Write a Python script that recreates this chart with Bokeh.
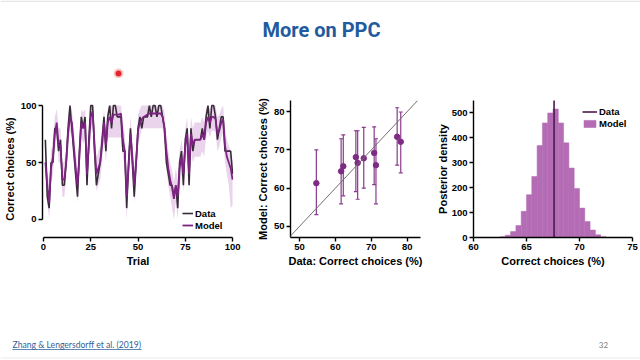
from bokeh.plotting import figure
from bokeh.models import (Legend, LegendItem, Whisker, ColumnDataSource, Slope, TeeHead,
                          Label, BoxAnnotation)
from bokeh.layouts import column, row
from bokeh.embed import file_html
from bokeh.resources import INLINE

# ---------------- data ----------------
trials = list(range(1, 101))
data_pct = [70, 20, 10, 50, 50, 80, 80, 60, 70, 30,
            30, 50, 80, 100, 80, 60, 40, 20, 60, 90,
            80, 90, 30, 70, 100, 100, 60, 30, 40, 50,
            70, 90, 60, 90, 100, 80, 100, 100, 90, 90,
            90, 60, 60, 10, 50, 80, 50, 20, 50, 80,
            90, 80, 90, 90, 90, 100, 90, 100, 100, 90,
            100, 100, 90, 80, 50, 40, 30, 30, 20, 30,
            10, 50, 60, 30, 70, 80, 30, 80, 60, 70,
            70, 70, 70, 80, 70, 90, 100, 80, 100, 100,
            90, 70, 80, 90, 90, 60, 60, 60, 60, 40]
model_pct = [50, 30, 15, 45, 55, 75, 85, 65, 65, 35,
             35, 50, 75, 90, 85, 65, 45, 30, 55, 85,
             80, 85, 40, 65, 90, 95, 65, 40, 45, 50,
             65, 85, 65, 85, 90, 85, 92, 92, 92, 92,
             93, 70, 60, 20, 45, 75, 55, 30, 50, 78,
             85, 88, 90, 91, 92, 93, 93, 93, 93, 93,
             93, 93, 90, 80, 60, 45, 35, 28, 18, 30,
             20, 45, 55, 40, 65, 75, 40, 75, 65, 70,
             70, 70, 70, 75, 70, 85, 90, 85, 90, 90,
             88, 75, 78, 85, 88, 65, 55, 50, 45, 35]
model_lo = [35, 15, 0, 30, 40, 60, 72, 50, 50, 20,
            20, 35, 60, 78, 72, 50, 30, 15, 40, 72,
            66, 72, 25, 50, 78, 84, 50, 25, 30, 35,
            50, 72, 50, 72, 72, 72, 72, 72, 72, 72,
            72, 55, 45, 0, 30, 60, 40, 15, 35, 64,
            72, 80, 80, 80, 80, 80, 80, 80, 80, 80,
            80, 80, 80, 66, 45, 30, 20, 10, 0, 15,
            0, 30, 40, 25, 50, 60, 25, 60, 50, 55,
            55, 55, 55, 60, 55, 72, 78, 72, 78, 78,
            76, 60, 64, 72, 76, 50, 40, 30, 10, 12]
model_hi = [65, 45, 30, 60, 70, 90, 97, 80, 80, 50,
            50, 65, 90, 100, 97, 80, 60, 45, 70, 97,
            94, 97, 55, 80, 100, 100, 80, 55, 60, 65,
            80, 97, 80, 97, 100, 100, 100, 100, 100, 100,
            100, 85, 75, 35, 60, 90, 70, 45, 65, 92,
            97, 100, 100, 100, 100, 100, 100, 100, 100, 100,
            100, 100, 100, 94, 75, 60, 50, 43, 33, 45,
            35, 60, 70, 55, 80, 90, 55, 90, 80, 85,
            85, 85, 85, 90, 85, 97, 100, 97, 100, 100,
            100, 90, 92, 97, 100, 80, 70, 65, 60, 50]

scatter_data_x = [54.7, 61.6, 62.2, 65.7, 66.2, 67.9, 70.8, 71.3, 77.2, 78.2]
scatter_model_y = [61.3, 64.4, 65.7, 68.1, 66.6, 67.8, 69.2, 66.0, 73.4, 72.1]
scatter_lo = [53.1, 55.9, 58.0, 59.1, 57.1, 60.0, 60.9, 55.9, 66.0, 64.0]
scatter_hi = [70.0, 72.9, 73.9, 75.0, 75.0, 75.9, 76.0, 72.9, 81.0, 79.9]

hist_edges = [62.5, 63.0, 63.5, 64.0, 64.5, 65.0, 65.5, 66.0, 66.5, 67.0, 67.5,
              68.0, 68.5, 69.0, 69.5, 70.0, 70.5, 71.0, 71.5, 72.0, 72.5]
hist_counts = [3, 9, 24, 48, 105, 172, 245, 369, 460, 500,
               516, 460, 380, 279, 197, 118, 64, 30, 11, 3]
data_mean = 67.6

ticks_trial = [0, 25, 50, 75, 100]
ticks_pct1 = [0, 50, 100]
ticks_scatter = [50, 60, 70, 80]
ticks_hist_x = [60, 65, 70, 75]
ticks_hist_y = [0, 100, 200, 300, 400, 500]

title_text = "More on PPC"
citation_text = "Zhang & Lengersdorff et al. (2019)"
page_number = "32"

# ---------------- style ----------------
FONT = "Liberation Sans"
C_DATA = "#3a2b3b"
C_MODEL = "#7d2382"
C_BAND = "#ead4eb"
C_HIST = "#b46cb4"
C_POINT = "#7e2c83"


def style(p, label_standoff=2):
    p.outline_line_color = None
    p.xgrid.visible = False
    p.ygrid.visible = False
    p.background_fill_color = "white"
    p.border_fill_color = "white"
    for ax in p.axis:
        ax.axis_line_width = 1.4
        ax.axis_line_color = "black"
        ax.major_tick_line_width = 1.4
        ax.major_tick_line_color = "black"
        ax.major_tick_out = 4
        ax.major_tick_in = 0
        ax.minor_tick_line_color = None
        ax.major_label_text_font = FONT
        ax.major_label_text_font_style = "bold"
        ax.major_label_text_font_size = "9.5px"
        ax.major_label_text_color = "black"
        ax.major_label_standoff = 2
        ax.axis_label_text_font = FONT
        ax.axis_label_text_font_style = "bold"
        ax.axis_label_text_font_size = "11px"
        ax.axis_label_text_color = "black"
        ax.axis_label_standoff = label_standoff


def legend_style(lg):
    lg.padding = 0
    lg.margin = 0
    lg.spacing = 0
    lg.label_standoff = 2
    lg.label_height = 12
    lg.background_fill_alpha = 0
    lg.border_line_alpha = 0
    lg.label_text_font = FONT
    lg.label_text_font_style = "bold"
    lg.label_text_font_size = "9.5px"
    lg.label_text_color = "black"


def blank(width, height):
    p = figure(width=width, height=height, x_range=(0, width), y_range=(height, 0),
               min_border=0, x_axis_location=None, y_axis_location=None,
               output_backend="svg", toolbar_location=None)
    p.outline_line_color = None
    p.xgrid.visible = False
    p.ygrid.visible = False
    return p


# ---------------- title strip ----------------
pt = blank(640, 78)
pt.add_layout(BoxAnnotation(left=0, right=640, top=0, bottom=1.5, fill_color="#e6e6e6",
                            fill_alpha=1, line_color=None))
pt.add_layout(Label(x=321, y=29, text=title_text, text_align="center", text_baseline="middle",
                    text_font="Roboto", text_font_style="bold", text_font_size="20px",
                    text_color="#1f5b9e"))
pt.add_layout(BoxAnnotation(left=113, right=123, top=68, bottom=78, fill_color="#f08a8a",
                            fill_alpha=0.45, line_color=None, border_radius=5))
pt.add_layout(BoxAnnotation(left=115, right=121, top=70, bottom=76, fill_color="#e3262b",
                            fill_alpha=1, line_color=None, border_radius=3))

# ---------------- panel 1: time series ----------------
p1 = figure(width=250, height=202, x_range=(-0.52, 100.5), y_range=(-15.8, 104.4),
            min_border_left=40, min_border_right=17, min_border_top=22, min_border_bottom=43,
            output_backend="svg", toolbar_location=None)
p1.varea(x=trials, y1=model_lo, y2=model_hi, fill_color=C_BAND, fill_alpha=1)
r_d = p1.line(trials, data_pct, line_color=C_DATA, line_width=1.6)
r_m = p1.line(trials, model_pct, line_color=C_MODEL, line_width=1.8)
p1.xaxis.ticker = ticks_trial
p1.yaxis.ticker = ticks_pct1
p1.xaxis.bounds = (0, 100)
p1.yaxis.bounds = (0, 100)
p1.xaxis.axis_label = "Trial"
p1.yaxis.axis_label = "Correct choices (%)"
style(p1)
lg1 = Legend(items=[LegendItem(label="Data", renderers=[r_d]),
                    LegendItem(label="Model", renderers=[r_m])],
             location=(140, 6))
legend_style(lg1)
lg1.glyph_width = 11
lg1.glyph_height = 12
p1.add_layout(lg1)

# ---------------- panel 2: scatter ----------------
src = ColumnDataSource(dict(x=scatter_data_x, y=scatter_model_y, lo=scatter_lo, hi=scatter_hi))
p2 = figure(width=180, height=202, x_range=(47.5, 83.7), y_range=(47.1, 82.9),
            min_border_left=40, min_border_right=10, min_border_top=22, min_border_bottom=43,
            output_backend="svg", toolbar_location=None)
p2.add_layout(Slope(gradient=1, y_intercept=0, line_color="#707070", line_width=1))
p2.add_layout(Whisker(source=src, base="x", upper="hi", lower="lo", dimension="height",
                      line_color="#8a3a8e", line_width=1.2,
                      upper_head=TeeHead(size=4, line_color="#8a3a8e", line_width=1.2),
                      lower_head=TeeHead(size=4, line_color="#8a3a8e", line_width=1.2)))
p2.scatter("x", "y", source=src, size=5.5, fill_color=C_POINT, line_color=C_POINT)
p2.xaxis.ticker = ticks_scatter
p2.yaxis.ticker = ticks_scatter
p2.xaxis.axis_label = "Data: Correct choices (%)"
p2.yaxis.axis_label = "Model: Correct choices (%)"
style(p2)

# ---------------- panel 3: histogram ----------------
p3 = figure(width=210, height=202, x_range=(60, 75), y_range=(0, 550),
            min_border_left=43, min_border_right=8, min_border_top=22, min_border_bottom=43,
            output_backend="svg", toolbar_location=None)
r_h = p3.quad(left=hist_edges[:-1], right=hist_edges[1:], bottom=0, top=hist_counts,
              fill_color=C_HIST, line_color=C_HIST, line_width=0.5)
r_v = p3.ray(x=[data_mean], y=[0], length=0, angle=90, angle_units="deg",
             line_color="#4b1a4d", line_width=1.6)
p3.xaxis.ticker = ticks_hist_x
p3.yaxis.ticker = ticks_hist_y
p3.xaxis.axis_label = "Correct choices (%)"
p3.yaxis.axis_label = "Posterior density"
style(p3, label_standoff=0)
p3.xaxis.axis_label_standoff = 2
lg3 = Legend(items=[LegendItem(label="Data", renderers=[r_v]),
                    LegendItem(label="Model", renderers=[r_h])],
             location=(109, 108))
legend_style(lg3)
lg3.glyph_width = 15
lg3.glyph_height = 9
p3.add_layout(lg3)

# ---------------- footer strip ----------------
pf = blank(640, 80)
pf.add_layout(Label(x=12, y=64, text=citation_text, text_align="left", text_baseline="middle",
                    text_font="Lato", text_font_size="8.6px", text_color="#2f5f9a"))
pf.add_layout(BoxAnnotation(left=12, right=141, top=68.5, bottom=69.3, fill_color="#2f5f9a",
                            fill_alpha=1, line_color=None))
pf.add_layout(Label(x=603, y=64, text=page_number, text_align="center", text_baseline="middle",
                    text_font="Lato", text_font_size="8px", text_color="#808080"))
pf.add_layout(BoxAnnotation(left=0, right=640, top=77, bottom=78, fill_color="#ececec",
                            fill_alpha=1, line_color=None))

layout = column(pt, row(p1, p2, p3), pf)

open("out.html", "w").write(file_html(layout, INLINE))
